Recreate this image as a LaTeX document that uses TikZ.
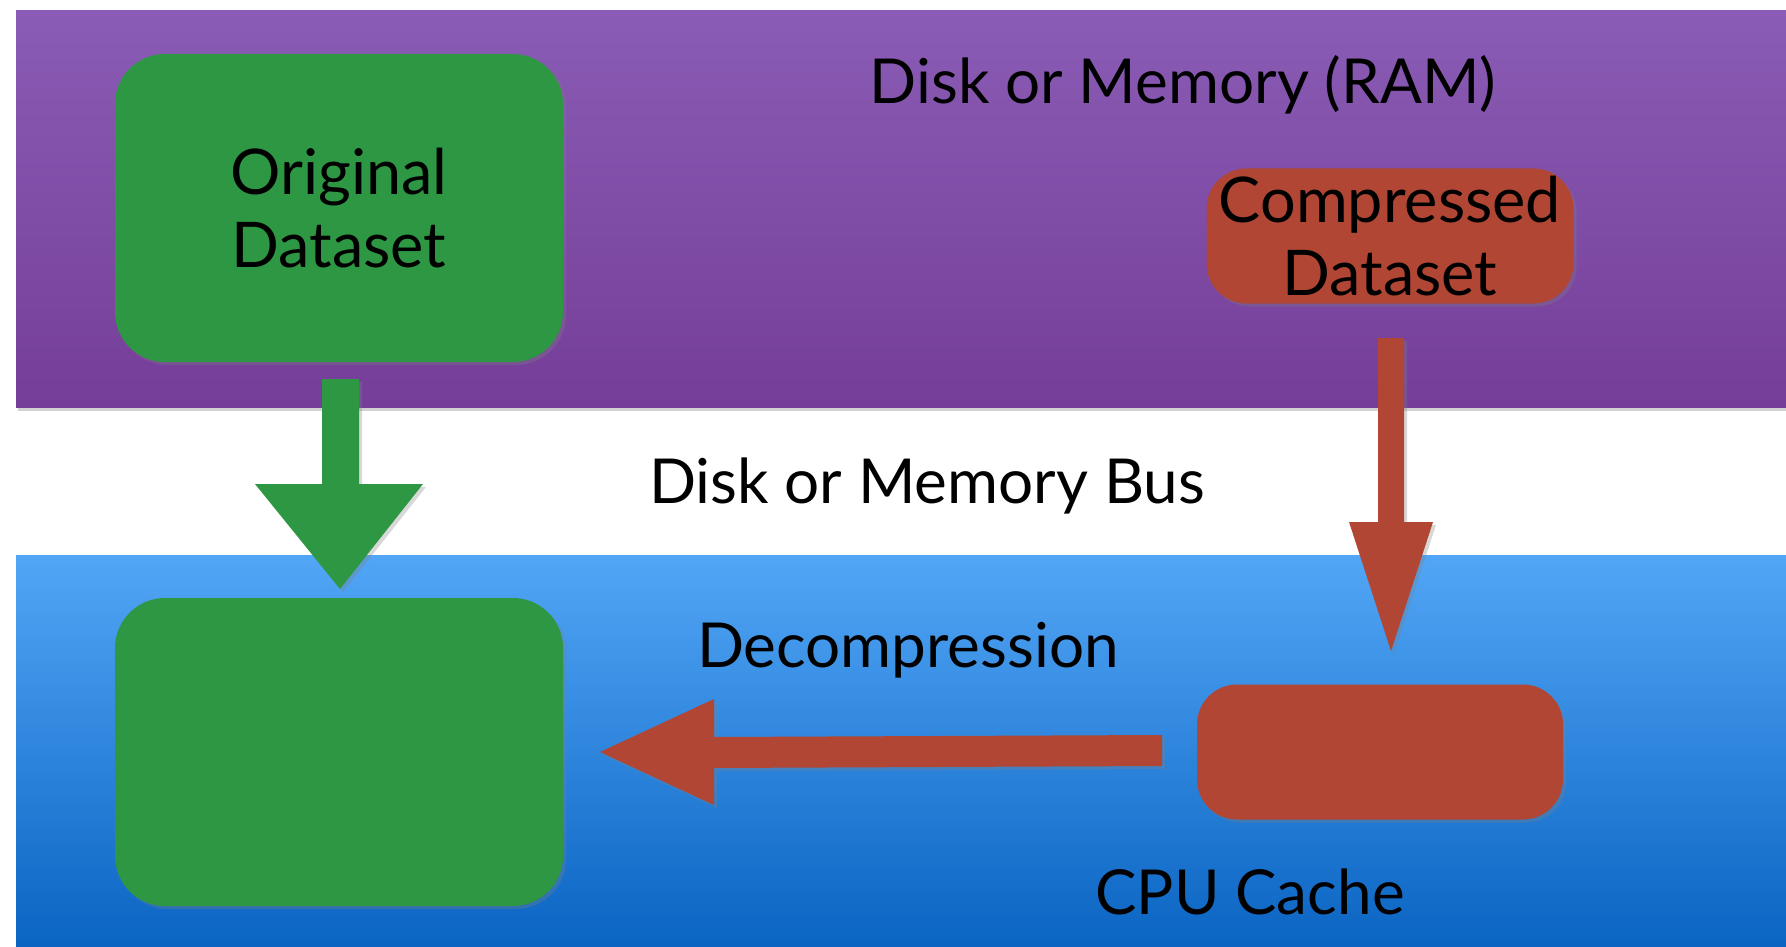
\documentclass[tikz,border=0pt]{standalone}
\usepackage{fontspec}
\setmainfont{Lato}
\usetikzlibrary{shadows}
\definecolor{purpTop}{RGB}{138,92,181}
\definecolor{purpBot}{RGB}{117,62,152}
\definecolor{blueTop}{RGB}{82,166,246}
\definecolor{blueBot}{RGB}{8,98,192}
\definecolor{feltgreen}{RGB}{46,151,68}
\definecolor{feltred}{RGB}{178,70,52}
\begin{document}
\begin{tikzpicture}[x=1pt,y=-1pt,
  band/.style={drop shadow={opacity=0.35,shadow xshift=2pt,shadow yshift=-4pt}},
  feltbox/.style={rounded corners=#1,inner sep=0pt,align=center,
    drop shadow={opacity=0.3,shadow xshift=3pt,shadow yshift=-3pt}},
  greenbox/.style={feltbox=50pt,fill=feltgreen,minimum width=448pt,minimum height=308pt},
  redbox/.style={feltbox=40pt,fill=feltred,minimum width=367pt,minimum height=135pt},
  blockarrow/.style={drop shadow={opacity=0.3,shadow xshift=3pt,shadow yshift=-3pt}},
  lbl/.style={font=\fontsize{62}{70}\selectfont,inner sep=0pt,align=center},
  boxlbl/.style={font=\fontsize{63}{73}\selectfont}
]
\useasboundingbox (0,0) rectangle (1786,947);
\fill[white] (0,0) rectangle (1786,947);
% bands
\path[band,top color=purpTop,bottom color=purpBot] (16,11) rectangle (1800,407);
\path[band,top color=blueTop,bottom color=blueBot] (16,555) rectangle (1800,960);
% boxes
\node[greenbox,boxlbl] (orig) at (339,208) {Original\\Dataset};
\node[greenbox] (dec) at (339,752) {};
\node[redbox,boxlbl] (comp) at (1390,236) {Compressed\\Dataset};
\node[redbox,minimum width=366pt] (cache) at (1380,752) {};
% green down arrow
\fill[feltgreen,blockarrow] (322,379) -- (359,379) -- (359,484) -- (423,484) -- (340,589)
  -- (255,484) -- (322,484) -- cycle;
% red down arrow
\fill[feltred,blockarrow] (1378,338) -- (1404,338) -- (1404,522) -- (1433,522) -- (1391,651)
  -- (1349,522) -- (1378,522) -- cycle;
% red left arrow
\fill[feltred,blockarrow] (1162,735) -- (1162,766) -- (714,768) -- (714,805) -- (600,752)
  -- (714,699) -- (714,737) -- cycle;
% labels
\node[lbl] (ram) at (1183,85) {Disk or Memory (RAM)};
\node[lbl] (bus) at (927,486) {Disk or Memory Bus};
\node[lbl] (decomp) at (908,650) {Decompression};
\node[lbl] (cpu) at (1250,892) {CPU Cache};
\end{tikzpicture}
\end{document}
